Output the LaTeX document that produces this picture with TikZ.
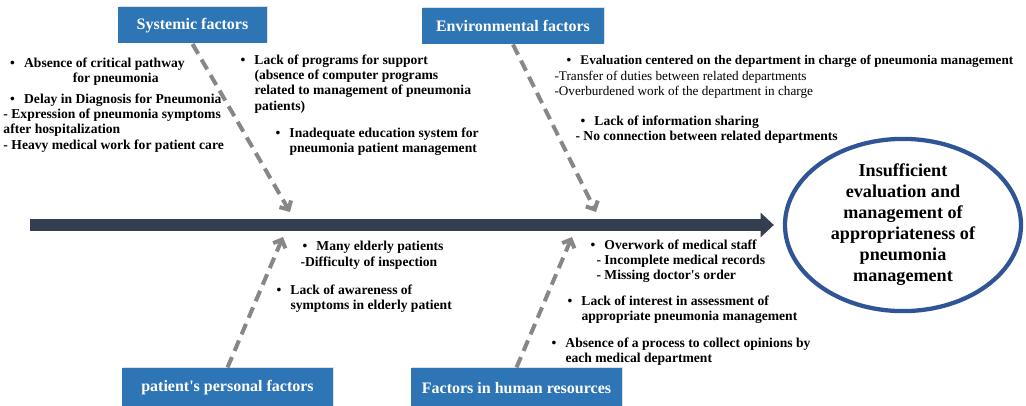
\documentclass[tikz,border=0pt]{standalone}
\usepackage{fontspec}
\setmainfont{Liberation Serif}
\usetikzlibrary{arrows.meta,shapes.geometric,shadows}

\definecolor{catblue}{HTML}{2E75B6}
\definecolor{goalblue}{HTML}{2F5597}
\definecolor{spinegray}{HTML}{333F50}
\definecolor{causegray}{HTML}{878787}

\newcommand{\bul}{\makebox[10.5pt][l]{\textbullet}}
\newcommand{\ind}{\hspace*{10.5pt}}
\newcommand{\apos}{\textquotesingle}

\tikzset{every picture/.style={line width=0.75pt}}
\tikzset{
  catbox/.style={rectangle, fill=catblue, text=white, inner sep=0pt,
    font=\fontsize{12}{14}\selectfont\bfseries, minimum height=27pt,
    drop shadow={shadow xshift=1pt, shadow yshift=1pt, opacity=0.25}},
  notes/.style={anchor=north west, inner sep=0pt, align=left,
    font=\fontsize{10.2}{11.5}\selectfont\bfseries},
  cause/.style={draw=causegray, line width=3pt, dash pattern=on 8.5pt off 5pt,
    -{Straight Barb[length=5pt,width=10pt]}},
}

\begin{document}
\begin{tikzpicture}[x=0.75pt,y=0.75pt,yscale=-1,xscale=1]
\useasboundingbox (0,0) rectangle (1026,406);

% Category boxes
\node[catbox, minimum width=111.75pt] (sys) at (192.5,25.5) {Systemic factors};
\node[catbox, minimum width=136.5pt] (env) at (513,26) {Environmental factors};
\node[catbox, minimum width=158.25pt, minimum height=30pt] (pat) at (227.5,388) {patient\apos s personal factors};
\node[catbox, minimum width=158.25pt, minimum height=30pt] (hum) at (516.5,388) {Factors in human resources};

% Outcome
\node[ellipse, draw=goalblue, line width=3.2pt, inner sep=0pt,
  minimum width=177pt, minimum height=109pt, align=center,
  font=\fontsize{13.6}{15.75}\selectfont\bfseries] (goal) at (903,225)
  {Insufficient\\evaluation and\\management of\\appropriateness of\\pneumonia\\management};

% Spine
\coordinate (spineL) at (30,225);
\draw[spinegray, line width=9pt, -{Triangle[length=10pt,width=18pt]}, shorten >=6.75pt] (spineL) -- (goal.west);

% Cause arrows
\coordinate (sysTip) at (290,212);
\coordinate (envTip) at (596,212);
\coordinate (patTip) at (283,237);
\coordinate (humTip) at (572,237);
\draw[cause] (sys.south) -- (sysTip);
\draw[cause] (env.south) -- (envTip);
\draw[cause] (pat.north) -- (patTip);
\draw[cause] (hum.north) -- (humTip);

% Text Node
\node[notes] (sysA) at (3,57) {\hspace*{5pt}\bul Absence of critical pathway\\
\hspace*{52pt}for pneumonia\\[4pt]
\hspace*{5pt}\bul Delay in Diagnosis for Pneumonia\\
- Expression of pneumonia symptoms\\
after hospitalization\\
- Heavy medical work for patient care};
% Text Node
\node[notes] (sysB) at (240,54) {\bul Lack of programs for support\\
\ind(absence of computer programs\\
\ind related to management of pneumonia\\
\ind patients)};
% Text Node
\node[notes] (sysC) at (275,127) {\bul Inadequate education system for\\
\ind pneumonia patient management};
% Text Node
\node[notes, font=\fontsize{9.9}{11.5}\selectfont\bfseries] (envA) at (554,55) {\hspace*{9pt}\bul Evaluation centered on the department in charge of pneumonia management\\
{\mdseries -Transfer of duties between related departments}\\
{\mdseries -Overburdened work of the department in charge}};
% Text Node
\node[notes] (envB) at (575,115) {\hspace*{3.75pt}\bul Lack of information sharing\\
- No connection between related departments};
% Text Node
\node[notes] (patA) at (300,241) {\hspace*{1.5pt}\bul Many elderly patients\\
-Difficulty of inspection};
% Text Node
\node[notes] (patB) at (276,284) {\bul Lack of awareness of\\
\ind symptoms in elderly patient};
% Text Node
\node[notes] (humA) at (590,239) {\bul Overwork of medical staff\\
\hspace*{4.5pt}- Incomplete medical records\\
\hspace*{4.5pt}- Missing doctor\apos s order};
% Text Node
\node[notes] (humB) at (567,295) {\bul Lack of interest in assessment of\\
\ind appropriate pneumonia management};
% Text Node
\node[notes] (humC) at (551,337) {\bul Absence of a process to collect opinions by\\
\ind each medical department};

\end{tikzpicture}
\end{document}
